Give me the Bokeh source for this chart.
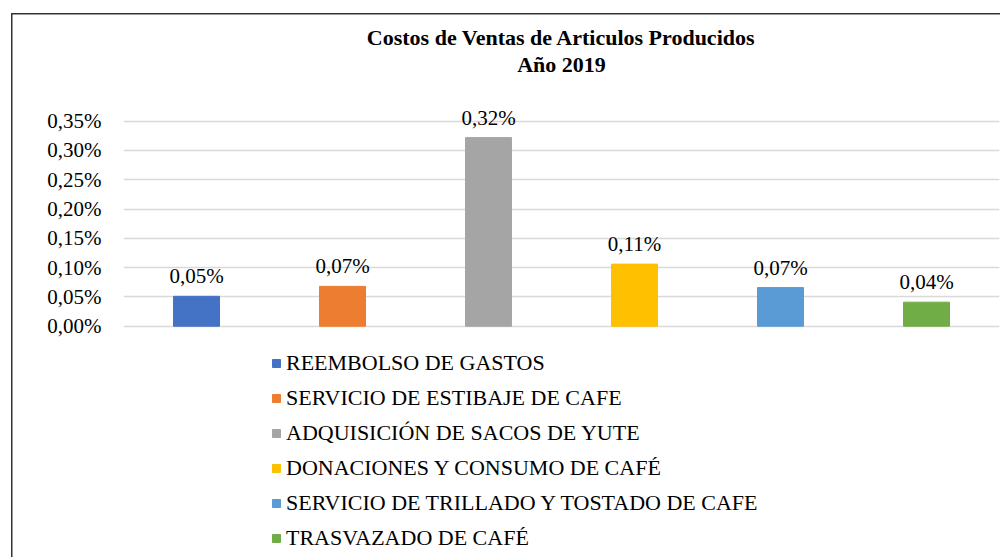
from bokeh.plotting import figure
from bokeh.models import ColumnDataSource, FixedTicker, Range1d, FactorRange, Title
from bokeh.core.properties import value
from bokeh.embed import file_html
from bokeh.resources import INLINE

categories = [
    "REEMBOLSO DE GASTOS",
    "SERVICIO DE ESTIBAJE DE CAFE",
    "ADQUISICIÓN DE SACOS DE YUTE",
    "DONACIONES Y CONSUMO DE CAFÉ",
    "SERVICIO DE TRILLADO Y TOSTADO DE CAFE",
    "TRASVAZADO DE CAFÉ",
]
values = [0.051, 0.068, 0.322, 0.106, 0.066, 0.041]  # in percent
value_labels = ["0,05%", "0,07%", "0,32%", "0,11%", "0,07%", "0,04%"]
colors = ["#4472C4", "#ED7D31", "#A5A5A5", "#FFC000", "#5B9BD5", "#70AD47"]
tick_values = [0.0, 0.05, 0.1, 0.15, 0.2, 0.25, 0.3, 0.35]
tick_labels = ["0,00%", "0,05%", "0,10%", "0,15%", "0,20%", "0,25%", "0,30%", "0,35%"]
title_lines = ["Costos de Ventas de Articulos Producidos", "Año 2019"]

FONT = "Liberation Serif"

src = ColumnDataSource(dict(cat=categories, val=values, lab=value_labels, color=colors))

# frame spans from y=100 to the bottom of the canvas; the area below zero holds the legend
p = figure(
    width=1000, height=557,
    x_range=FactorRange(factors=categories),
    y_range=Range1d(-0.39492, 0.38534),
    output_backend="svg", toolbar_location=None,
    min_border_left=123, min_border_right=1,
    min_border_top=100, min_border_bottom=0,
    title=title_lines[0],
)
p.border_fill_color = None
p.background_fill_color = None
p.styles = {"box-shadow": "inset 11px 13px 0 0 #ffffff, inset 12.5px 14.5px 0 0 #333333"}

p.title.text_font = FONT
p.title.text_font_size = "22px"
p.title.text_font_style = "bold"
p.title.text_color = "black"
p.title.align = "center"
p.title.standoff = 0
p.title.offset = -5

# spacer between the frame and the second title line
spacer = Title(text=" ", text_font_size="1px", standoff=21)
p.add_layout(spacer, "above")

t2 = Title(text=title_lines[1], align="center", text_font=FONT, text_font_size="22px",
           text_font_style="bold", text_color="black", standoff=0, offset=-5)
p.add_layout(t2, "above")

p.vbar(x="cat", top="val", width=0.315, color="color", source=src, legend_field="cat")
p.text(x="cat", y="val", text="lab", source=src, text_align="center",
       text_baseline="alphabetic", y_offset=-20, text_font=value(FONT),
       text_font_size="21px", text_color="black")

p.xaxis.visible = False
p.xgrid.grid_line_color = None
p.ygrid.grid_line_color = "#D9D9D9"
p.ygrid.grid_line_width = 1.3
for ax in p.yaxis:
    ax.ticker = FixedTicker(ticks=tick_values)
    ax.major_label_overrides = dict(zip(tick_values, tick_labels))
    ax.axis_line_color = None
    ax.major_tick_line_color = None
    ax.minor_tick_line_color = None
    ax.major_label_standoff = 16
    ax.major_label_text_font = FONT
    ax.major_label_text_font_size = "21px"
    ax.major_label_text_color = "black"
p.outline_line_color = None

leg = p.legend[0]
leg.location = (148, 6)
leg.padding = 0
leg.margin = 0
leg.spacing = 9
leg.label_height = 20
leg.glyph_width = 10
leg.glyph_height = 10
leg.label_standoff = 5
leg.label_text_font = FONT
leg.label_text_font_size = "22px"
leg.label_text_color = "black"
leg.border_line_color = None
leg.background_fill_alpha = 0

open("out.html", "w").write(file_html(p, INLINE))
